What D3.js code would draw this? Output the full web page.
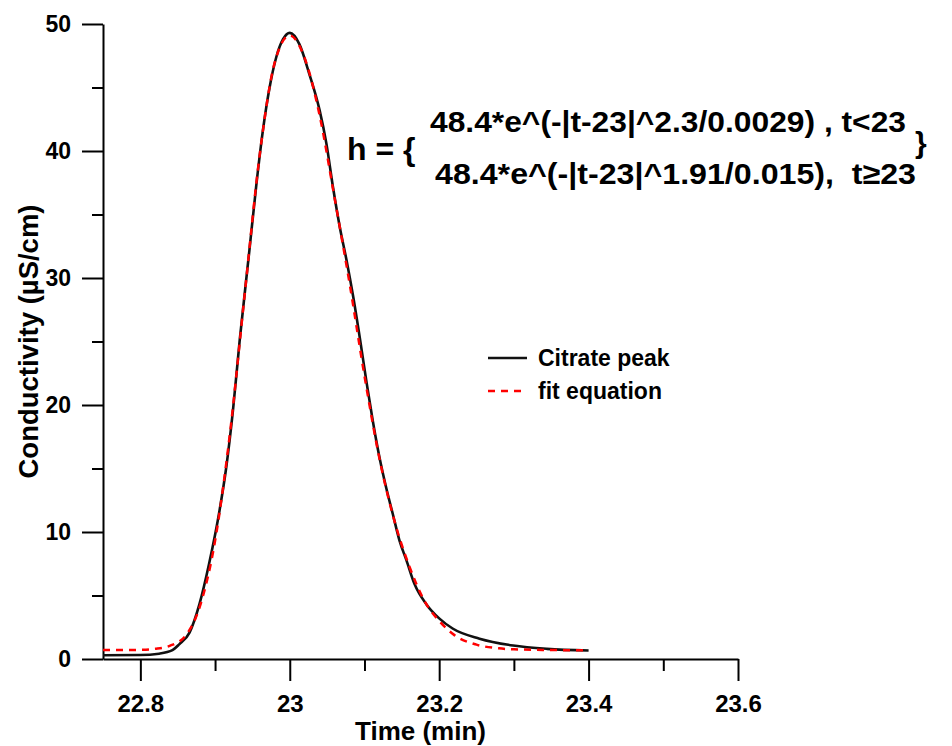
<!DOCTYPE html>
<html>
<head>
<meta charset="utf-8">
<script src="https://cdn.jsdelivr.net/npm/d3@7"></script>
<style>
  html, body { margin: 0; padding: 0; background: #fff; }
  svg { display: block; font-family: "Liberation Sans", Arial, sans-serif; font-weight: bold; }
  text { white-space: pre; }
</style>
</head>
<body>
<svg id="chart" width="952" height="746"></svg>
<script>
// ---- data ----
const peakTime = [22.75, 22.80, 22.825, 22.843, 22.852, 22.866, 22.879, 22.892, 22.906, 22.915, 22.924, 22.933,
  22.946, 22.955, 22.964, 22.973, 22.982, 22.991, 23.000, 23.013, 23.026, 23.040, 23.049, 23.058, 23.067,
  23.076, 23.085, 23.094, 23.103, 23.111, 23.120, 23.129, 23.138, 23.147, 23.156, 23.167, 23.183, 23.200,
  23.218, 23.254, 23.299, 23.344, 23.400];
const peakValue = [0.30, 0.31, 0.42, 0.70, 1.15, 2.1, 4.3, 7.5, 11.7, 15.1, 19.6, 25.1,
  32.2, 37.2, 41.6, 45.0, 47.4, 48.8, 49.3, 48.4, 46.1, 43.2, 40.6, 37.1, 34.0,
  31.4, 28.5, 25.2, 21.7, 18.8, 15.9, 13.5, 11.4, 9.3, 7.8, 5.9, 4.3, 3.2,
  2.4, 1.6, 1.06, 0.80, 0.67];

const fitTime = [22.75, 22.78, 22.80, 22.82, 22.84, 22.86, 22.88, 22.90, 22.92, 22.94, 22.96, 22.98, 23.00,
  23.02, 23.04, 23.06, 23.08, 23.10, 23.12, 23.14, 23.16, 23.18, 23.20, 23.22, 23.25, 23.28, 23.30, 23.35, 23.40];
const fitValue = [0.70, 0.70, 0.72, 0.80, 1.05, 1.8, 4.2, 9.3, 17.8, 28.9, 39.8, 47.0, 49.1,
  47.3, 42.8, 36.3, 29.6, 22.3, 15.8, 10.9, 7.3, 4.6, 3.0, 1.9, 1.13, 0.84, 0.76, 0.71, 0.68];

const xMajorTicks = [22.8, 23.0, 23.2, 23.4, 23.6];
const xMinorTicks = [22.9, 23.1, 23.3, 23.5];
const yMajorTicks = [0, 10, 20, 30, 40, 50];
const yMinorTicks = [5, 15, 25, 35, 45];

const seriesNames = ["Citrate peak", "fit equation"];
const xTitle = "Time (min)";
const yTitle = "Conductivity (µS/cm)";
const eqLines = ["48.4*e^(-|t-23|^2.3/0.0029) , t<23", "48.4*e^(-|t-23|^1.91/0.015),  t≥23"];

// ---- drawing ----
const svg = d3.select("#chart");
const x = d3.scaleLinear().domain([22.75, 23.6]).range([103, 738]);
const y = d3.scaleLinear().domain([0, 50]).range([659, 24]);

const fmt = d => d3.format(".1f")(d).replace(/\.0$/, "");

// x axis
const gx = svg.append("g").attr("transform", `translate(0,${y(0)})`);
gx.call(d3.axisBottom(x).tickValues(xMajorTicks).tickFormat(fmt).tickSize(22).tickSizeOuter(0).tickPadding(14));
const gxm = svg.append("g").attr("transform", `translate(0,${y(0)})`);
gxm.call(d3.axisBottom(x).tickValues(xMinorTicks).tickFormat("").tickSize(12).tickSizeOuter(0));
gxm.select(".domain").remove();

// y axis
const gy = svg.append("g").attr("transform", `translate(${x(22.75)},0)`);
gy.call(d3.axisLeft(y).tickValues(yMajorTicks).tickFormat(fmt).tickSize(21).tickSizeOuter(0).tickPadding(11));
const gym = svg.append("g").attr("transform", `translate(${x(22.75)},0)`);
gym.call(d3.axisLeft(y).tickValues(yMinorTicks).tickFormat("").tickSize(11).tickSizeOuter(0));
gym.select(".domain").remove();

svg.selectAll(".domain").attr("stroke", "#000").attr("stroke-width", 2);
svg.selectAll(".tick line").attr("stroke", "#000").attr("stroke-width", 2);
gx.selectAll(".tick text").attr("font-size", 24).attr("font-family", "Liberation Sans, Arial, sans-serif").attr("font-weight", "bold").attr("fill", "#000");
gy.selectAll(".tick text").attr("font-size", 23).attr("font-family", "Liberation Sans, Arial, sans-serif").attr("font-weight", "bold").attr("fill", "#000");

// axis titles
svg.append("text").attr("x", (x.range()[0] + x.range()[1]) / 2).attr("y", 740)
  .attr("text-anchor", "middle").attr("font-size", 26).text(xTitle);
svg.append("text").attr("transform", `translate(38,${(y.range()[0] + y.range()[1]) / 2}) rotate(-90)`)
  .attr("text-anchor", "middle").attr("font-size", 27.5).text(yTitle);

// lines
const line = d3.line().x(d => x(d[0])).y(d => y(d[1])).curve(d3.curveMonotoneX);
const peakData = peakTime.map((t, i) => [t, peakValue[i]]);
const fitData = fitTime.map((t, i) => [t, fitValue[i]]);

svg.append("path").datum(peakData).attr("d", line)
  .attr("fill", "none").attr("stroke", "#111").attr("stroke-width", 2.6);
svg.append("path").datum(fitData).attr("d", line)
  .attr("fill", "none").attr("stroke", "#ff0000").attr("stroke-width", 2.5).attr("stroke-dasharray", "7,6");

// legend
const legend = svg.append("g");
const legY = [358, 391];
legend.append("line").attr("x1", 488).attr("x2", 527).attr("y1", legY[0]).attr("y2", legY[0])
  .attr("stroke", "#111").attr("stroke-width", 2.5);
legend.append("line").attr("x1", 488).attr("x2", 527).attr("y1", legY[1]).attr("y2", legY[1])
  .attr("stroke", "#ff0000").attr("stroke-width", 2.5).attr("stroke-dasharray", "7,6");
seriesNames.forEach((n, i) => {
  legend.append("text").attr("x", 538).attr("y", legY[i]).attr("dy", "0.36em")
    .attr("font-size", 23).text(n);
});

// equation annotation
svg.append("text").attr("x", 347).attr("y", 160).attr("font-size", 32).text("h = {");
svg.append("text").attr("x", 430).attr("y", 132).attr("font-size", 30)
  .attr("textLength", 476).attr("lengthAdjust", "spacingAndGlyphs").text(eqLines[0]);
svg.append("text").attr("x", 435).attr("y", 184).attr("font-size", 30)
  .attr("textLength", 481).attr("lengthAdjust", "spacingAndGlyphs").text(eqLines[1]);
svg.append("text").attr("x", 915).attr("y", 153).attr("font-size", 30).text("}");
</script>
</body>
</html>
